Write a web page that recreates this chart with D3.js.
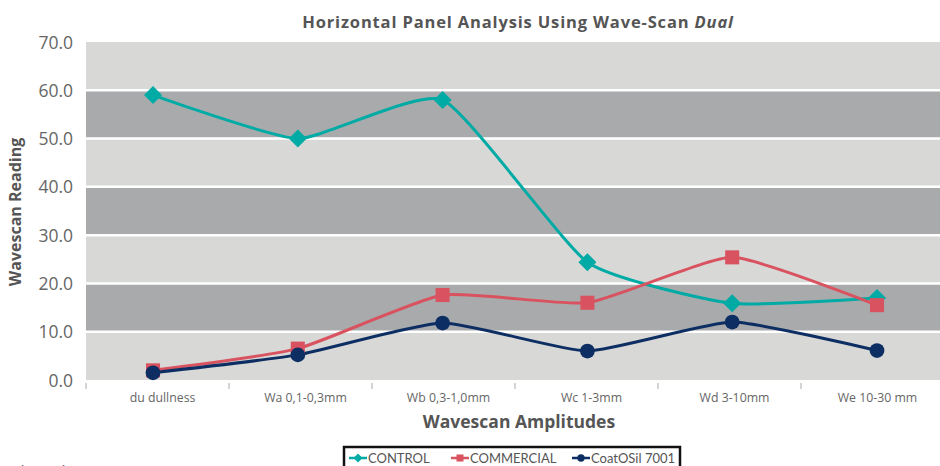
<!DOCTYPE html>
<html><head><meta charset="utf-8">
<script src="https://cdn.jsdelivr.net/npm/d3@7"></script>
<style>body{margin:0;background:#fff;overflow:hidden}svg{display:block}</style>
</head><body>
<script>
const categories = ["du dullness","Wa 0,1-0,3mm","Wb 0,3-1,0mm","Wc 1-3mm","Wd 3-10mm","We 10-30 mm"];
const control    = [59.0, 50.0, 58.0, 24.4, 15.9, 17.0];
const commercial = [2.0, 6.5, 17.6, 16.0, 25.4, 15.5];
const coatosil   = [1.5, 5.2, 11.8, 6.0, 12.0, 6.1];
const yTicks = [0,10,20,30,40,50,60,70];
const seriesNames = ["CONTROL","COMMERCIAL","CoatOSil 7001"];

const W=940,H=466;
const svg=d3.select("body").append("svg").attr("width",W).attr("height",H);
const font="'Open Sans', sans-serif";
const font2="Lato, 'Open Sans', sans-serif";
const pL=86,pR=944,pT=42,pB=380;

const y=d3.scaleLinear().domain([0,70]).range([pB,pT]);
const xb=d3.scaleBand().domain(categories).range([pL,pR]);
const xp=d3.scalePoint().domain(categories).range([153,877]);

// bands
for(let i=0;i<7;i++){
  svg.append("rect").attr("x",pL).attr("width",pR-pL)
    .attr("y",y(yTicks[i+1])).attr("height",y(yTicks[i])-y(yTicks[i+1]))
    .attr("fill",(i%2===1)?"#a9aaac":"#d8d8d6");
}
svg.selectAll("line.g").data(yTicks.slice(1,7)).enter().append("line")
  .attr("x1",pL).attr("x2",pR).attr("y1",d=>y(d)).attr("y2",d=>y(d))
  .attr("stroke","#fff").attr("stroke-width",2.5);

// y axis labels
const ya=svg.append("g").attr("transform",`translate(${pL-13},0)`)
  .call(d3.axisLeft(y).tickValues(yTicks).tickFormat(d3.format(".1f")).tickSize(0));
ya.select(".domain").remove();
ya.selectAll("text").attr("font-family",font).attr("font-size",17.5).attr("fill","#666").attr("dy","0.35em").attr("x",0);

// x axis
const xa=svg.append("g").attr("transform",`translate(0,${pB})`)
  .call(d3.axisBottom(xb).tickSize(0).tickPadding(13));
xa.select(".domain").remove();
xa.selectAll("text").attr("font-family",font).attr("font-size",12.3).attr("fill","#666").attr("dx",5);
const edges=categories.map(c=>xb(c));
svg.selectAll("line.xt").data(edges).enter().append("line")
  .attr("x1",d=>d).attr("x2",d=>d).attr("y1",pB+3).attr("y2",pB+9)
  .attr("stroke","#d4d4d4").attr("stroke-width",2);

// titles
const title=svg.append("text").attr("x",518).attr("y",28).attr("text-anchor","middle")
  .attr("font-family",font).attr("font-weight","bold").attr("font-size",16.5)
  .attr("letter-spacing",0.85).attr("fill","#555");
title.append("tspan").text("Horizontal Panel Analysis Using Wave-Scan ");
title.append("tspan").attr("font-style","italic").text("Dual");
svg.append("text").attr("x",519).attr("y",428).attr("text-anchor","middle")
  .attr("font-family",font).attr("font-weight","bold").attr("font-size",17.5).attr("fill","#555")
  .text("Wavescan Amplitudes");
svg.append("text").attr("transform","translate(21,212) rotate(-90)").attr("text-anchor","middle")
  .attr("font-family",font).attr("font-weight","bold").attr("font-size",16).attr("fill","#555")
  .text("Wavescan Reading");

const colors=["#00aba5","#d9525f","#0d2e63"];
const data=[control,commercial,coatosil];
const line=d3.line().x((d,i)=>xp(categories[i])).y(d=>y(d)).curve(d3.curveCardinal.tension(0.5));

function marker(g,k,cx,cy,s){
  if(k===0) g.append("path").attr("d",`M${cx},${cy-s}L${cx+s},${cy}L${cx},${cy+s}L${cx-s},${cy}Z`).attr("fill",colors[0]);
  else if(k===1) g.append("rect").attr("x",cx-s*0.78).attr("y",cy-s*0.78).attr("width",s*1.56).attr("height",s*1.56).attr("fill",colors[1]);
  else g.append("circle").attr("cx",cx).attr("cy",cy).attr("r",s*0.82).attr("fill",colors[2]);
}
data.forEach((vals,k)=>{
  svg.append("path").attr("d",line(vals)).attr("fill","none").attr("stroke",colors[k]).attr("stroke-width",3);
});
data.forEach((vals,k)=>{
  const g=svg.append("g");
  vals.forEach((v,i)=>marker(g,k,xp(categories[i]),y(v),9));
});

// legend
svg.append("rect").attr("x",344).attr("y",447).attr("width",336).attr("height",30)
  .attr("fill","#fff").attr("stroke","#111").attr("stroke-width",2.5);
const lx=[349,451,572];
seriesNames.forEach((n,k)=>{
  const g=svg.append("g");
  g.append("line").attr("x1",lx[k]).attr("x2",lx[k]+18).attr("y1",458).attr("y2",458).attr("stroke",colors[k]).attr("stroke-width",2.5);
  marker(g,k,lx[k]+9,458,4.5);
  g.append("text").attr("x",lx[k]+19).attr("y",463).attr("font-family",font2).attr("font-size",13).attr("fill","#555").text(n);
});

svg.append("text").attr("x",0).attr("y",477).attr("font-family",font).attr("font-size",16).attr("fill","#666").text("ted results");
</script>
</body></html>
